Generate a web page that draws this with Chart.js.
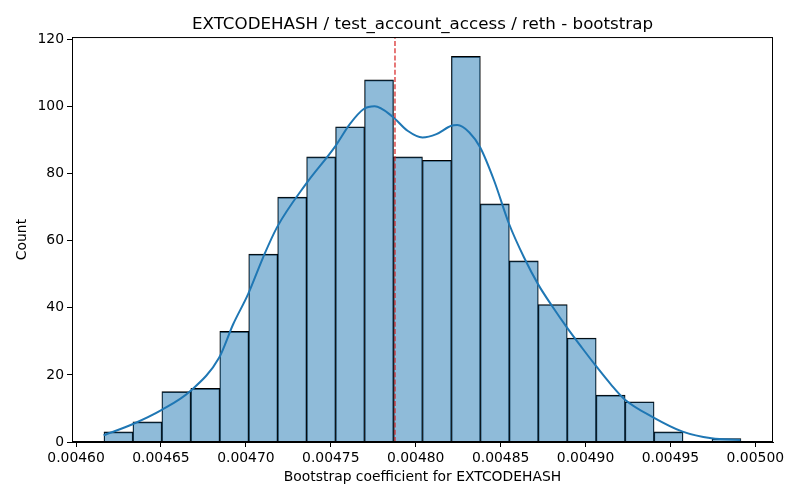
<!DOCTYPE html>
<html>
<head>
<meta charset="utf-8">
<script src="https://cdn.jsdelivr.net/npm/chart.js@4.4.1/dist/chart.umd.min.js"></script>
<style>
  body { margin: 0; background: #fff; }
  #wrap { width: 800px; height: 500px; }
</style>
</head>
<body>
<div id="wrap"><canvas id="histChart" width="800" height="500"></canvas></div>
<script>
/// === DATA === ///
// histogram bin edges (22 bins) and counts per bin
const binEdges = [0.0046164, 0.0046335, 0.0046505, 0.0046676, 0.0046846, 0.0047017,
  0.0047187, 0.0047358, 0.0047528, 0.0047699, 0.0047869, 0.0048040, 0.0048210,
  0.0048381, 0.0048551, 0.0048722, 0.0048892, 0.0049063, 0.0049233, 0.0049404,
  0.0049574, 0.0049745, 0.0049915];
const binCounts = [3, 6, 15, 16, 33, 56, 73, 85, 94, 108, 85, 84, 115, 71, 54, 41, 31, 14, 12, 3, 0, 1];

// kde curve
const kdeX = [0.0046162, 0.0046332, 0.0046502, 0.0046673, 0.0046843, 0.0046925, 0.0047013,
  0.0047101, 0.0047183, 0.0047353, 0.0047524, 0.0047612, 0.0047694, 0.0047758, 0.0047864,
  0.0047952, 0.0048040, 0.0048122, 0.0048210, 0.0048245, 0.0048316, 0.0048380, 0.0048462,
  0.0048550, 0.0048638, 0.0048721, 0.0048809, 0.0048891, 0.0048979, 0.0049061, 0.0049149,
  0.0049231, 0.0049401, 0.0049572, 0.0049742, 0.0049912];
const kdeY = [2.0, 5.3, 9.5, 15.2, 25.2, 35.1, 44.1, 55, 64, 76.9, 88, 94.8, 99.3, 100.1, 97,
  92.8, 90.8, 91.8, 94.3, 94.5, 92.3, 87.8, 77.9, 65, 55, 47, 40.1, 34.1, 28.1, 22.7, 17.2,
  12.7, 7.3, 3.1, 1.1, 0.6];

// point estimate (red dashed line)
const estimate = 0.0047878;

// axes
const xTicks = [0.00460, 0.00465, 0.00470, 0.00475, 0.00480, 0.00485, 0.00490, 0.00495, 0.00500];
const yTicks = [0, 20, 40, 60, 80, 100, 120];
const xRange = [0.0045976, 0.0050104];
const yRange = [0, 120.75];

const titleText = 'EXTCODEHASH / test_account_access / reth - bootstrap';
const xLabel = 'Bootstrap coefficient for EXTCODEHASH';
const yLabel = 'Count';

/// === HELPERS === ///
const binPoints = binCounts.map((count, i) => ({
  x: (binEdges[i] + binEdges[i + 1]) / 2,
  y: count
}));
const kdePoints = kdeX.map((x, i) => ({ x: x, y: kdeY[i] }));
const estimatePoints = [{ x: estimate, y: yRange[0] }, { x: estimate, y: yRange[1] }];

// top and right spines
const frame = {
  id: 'frame',
  afterDatasetsDraw(chart) {
    const { ctx, chartArea: a } = chart;
    ctx.save();
    ctx.strokeStyle = '#000';
    ctx.lineWidth = 1;
    ctx.strokeRect(a.left + 0.5, a.top + 0.5, a.right - a.left - 1, a.bottom - a.top - 1);
    ctx.restore();
  }
};

Chart.defaults.font.family = '"DejaVu Sans", sans-serif';
Chart.defaults.color = '#000';

/// === CHART === ///
new Chart(document.getElementById('histChart'), {
  type: 'bar',
  data: {
    datasets: [
      {
        label: 'Count',
        data: binPoints,
        backgroundColor: 'rgba(31, 119, 180, 0.5)',
        borderColor: '#000',
        borderWidth: { top: 1, left: 0.7, right: 0.7, bottom: 0 },
        barPercentage: 1,
        categoryPercentage: 1,
        order: 3
      },
      {
        type: 'line',
        label: 'kde',
        data: kdePoints,
        borderColor: '#1f77b4',
        borderWidth: 2,
        pointRadius: 0,
        fill: false,
        cubicInterpolationMode: 'monotone',
        order: 2
      },
      {
        type: 'line',
        label: 'estimate',
        data: estimatePoints,
        borderColor: '#d62020',
        borderWidth: 1.2,
        borderDash: [5, 2.2],
        pointRadius: 0,
        fill: false,
        order: 1
      }
    ]
  },
  options: {
    responsive: false,
    animation: false,
    layout: { padding: { left: 0, right: 27, top: 0, bottom: 0 } },
    plugins: {
      legend: { display: false },
      tooltip: { enabled: false },
      title: {
        display: true,
        text: titleText,
        fullSize: false,
        font: { size: 16.7, weight: 'normal' },
        padding: { top: 14.5, bottom: 2.5 }
      }
    },
    scales: {
      x: {
        type: 'linear',
        min: xRange[0],
        max: xRange[1],
        offset: false,
        afterFit: scale => { scale.height = 58; },
        afterBuildTicks: scale => { scale.ticks = xTicks.map(v => ({ value: v })); },
        grid: { display: true, offset: false, drawOnChartArea: false, drawTicks: true, tickLength: 5, color: '#000' },
        border: { display: true, color: '#000' },
        ticks: {
          autoSkip: false,
          maxRotation: 0,
          padding: 3.5,
          font: { size: 13.9 },
          callback: v => v.toFixed(5)
        },
        title: { display: true, text: xLabel, font: { size: 13.9 }, padding: { top: 0, bottom: 14.5 } }
      },
      y: {
        min: yRange[0],
        max: yRange[1],
        afterFit: scale => { scale.width = 72; },
        afterBuildTicks: scale => { scale.ticks = yTicks.map(v => ({ value: v })); },
        grid: { display: true, offset: false, drawOnChartArea: false, drawTicks: true, tickLength: 5, color: '#000' },
        border: { display: true, color: '#000' },
        ticks: { padding: 3, font: { size: 13.9 } },
        title: { display: true, text: yLabel, font: { size: 13.9 }, padding: { top: 13.7, bottom: 0 } }
      }
    }
  },
  plugins: [frame]
});
</script>
</body>
</html>
